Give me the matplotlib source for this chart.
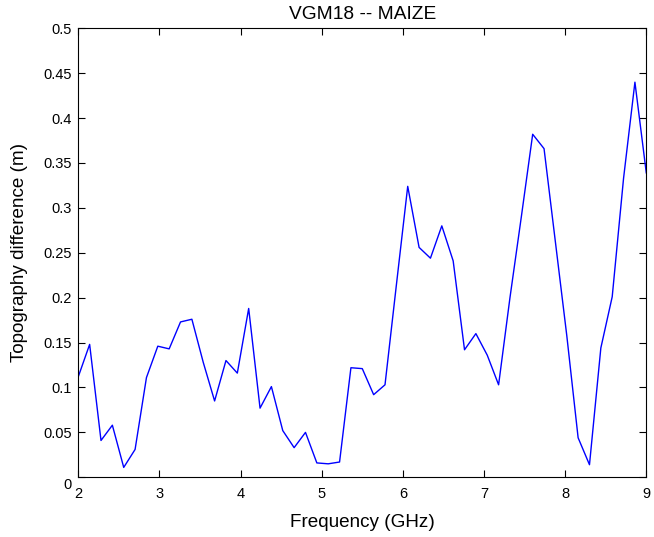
import matplotlib
matplotlib.use("Agg")
import matplotlib.pyplot as plt
import matplotlib.transforms as mtransforms

plt.rcParams['font.family'] = ['Liberation Sans', 'DejaVu Sans']

freq = [2.00, 2.14, 2.28, 2.42, 2.56, 2.70, 2.84, 2.98, 3.12, 3.26,
        3.40, 3.54, 3.68, 3.82, 3.96, 4.10, 4.24, 4.38, 4.52, 4.66,
        4.80, 4.94, 5.08, 5.22, 5.36, 5.50, 5.64, 5.78, 5.92, 6.06,
        6.20, 6.34, 6.48, 6.62, 6.76, 6.90, 7.04, 7.18, 7.32, 7.46,
        7.60, 7.74, 7.88, 8.02, 8.16, 8.30, 8.44, 8.58, 8.72, 8.86, 9.00]
topo_diff = [0.112, 0.148, 0.041, 0.058, 0.011, 0.031, 0.111, 0.146, 0.143, 0.173,
             0.176, 0.128, 0.085, 0.130, 0.116, 0.188, 0.077, 0.101, 0.052, 0.033,
             0.050, 0.016, 0.015, 0.017, 0.122, 0.121, 0.092, 0.103, 0.214, 0.324,
             0.256, 0.244, 0.280, 0.241, 0.142, 0.160, 0.136, 0.103, 0.200, 0.290,
             0.382, 0.366, 0.262, 0.158, 0.044, 0.014, 0.144, 0.201, 0.333, 0.440, 0.339]

xticks = [2, 3, 4, 5, 6, 7, 8, 9]
yticks = [0, 0.05, 0.1, 0.15, 0.2, 0.25, 0.3, 0.35, 0.4, 0.45, 0.5]
ytick_labels = ['0', '0.05', '0.1', '0.15', '0.2', '0.25', '0.3', '0.35', '0.4', '0.45', '0.5']

fig = plt.figure(figsize=(6.54, 5.37), dpi=100)
ax = fig.add_axes([0.1197, 0.1112, 0.8685, 0.8361])
ax.plot(freq, topo_diff, color='#0000ff', linewidth=1.0)
ax.set_xlim(2, 9)
ax.set_ylim(0, 0.5)
ax.set_xticks(xticks)
ax.set_xticklabels([str(t) for t in xticks])
ax.set_yticks(yticks)
ax.set_yticklabels(ytick_labels)
ax.tick_params(direction='in', top=True, right=True, length=5, width=0.8,
               labelsize=10.5, colors='black')
ax.tick_params(axis='x', pad=7)
ax.tick_params(axis='y', pad=4.5)
# MATLAB-style: the y label "0" sits slightly below the axis corner
ylabs = ax.get_yticklabels()
ylabs[0].set_transform(ylabs[0].get_transform() +
                       mtransforms.ScaledTranslation(0, -6 / 100, fig.dpi_scale_trans))
for s in ax.spines.values():
    s.set_linewidth(0.8)
ax.set_xlabel('Frequency (GHz)', fontsize=13.6, labelpad=9)
ax.set_ylabel('Topography difference (m)', fontsize=13.6, labelpad=11)
ax.set_title('VGM18 -- MAIZE', fontsize=13.8, pad=7)
fig.savefig('out.png', dpi=100)
